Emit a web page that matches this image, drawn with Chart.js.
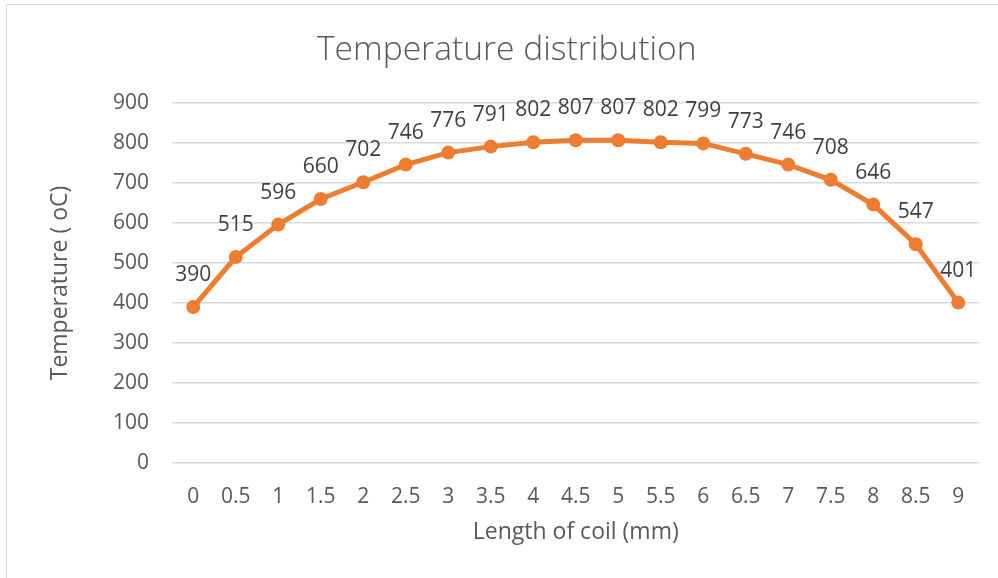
<!DOCTYPE html>
<html>
<head>
<meta charset="utf-8">
<script src="https://cdn.jsdelivr.net/npm/chart.js@4/dist/chart.umd.min.js"></script>
<style>
  html, body { margin: 0; padding: 0; background: #ffffff; }
  #wrap { position: relative; width: 998px; height: 578px; overflow: hidden; }
  #frame { position: absolute; left: 6px; top: 4px; width: 1100px; height: 700px;
           border: 1.5px solid #d9d9d9; box-sizing: border-box; pointer-events: none; }
  canvas { position: absolute; left: 0; top: 0; }
</style>
</head>
<body>
<div id="wrap">
  <canvas id="c" width="998" height="578"></canvas>
  <div id="frame"></div>
</div>
<script>
// Coil position along its length (mm)
const positions = ['0', '0.5', '1', '1.5', '2', '2.5', '3', '3.5', '4', '4.5',
                   '5', '5.5', '6', '6.5', '7', '7.5', '8', '8.5', '9'];
// Temperature at each position (oC)
const temperatures = [390, 515, 596, 660, 702, 746, 776, 791, 802, 807,
                      807, 802, 799, 773, 746, 708, 646, 547, 401];

const chartTitle = 'Temperature distribution';
const xTitle = 'Length of coil (mm)';
const yTitle = 'Temperature ( oC)';

const FONT = '"Open Sans", Lato, sans-serif';
const ORANGE = '#ED7D31';

// Writes each temperature value above its marker
const valueLabels = {
  id: 'valueLabels',
  afterDatasetsDraw(chart) {
    const ctx = chart.ctx;
    const meta = chart.getDatasetMeta(0);
    const data = chart.data.datasets[0].data;
    ctx.save();
    ctx.font = '21px ' + FONT;
    ctx.fillStyle = '#404040';
    ctx.textAlign = 'center';
    ctx.textBaseline = 'middle';
    meta.data.forEach((pt, i) => {
      ctx.fillText(String(data[i]), pt.x, pt.y - 32);
    });
    ctx.restore();
  }
};

new Chart(document.getElementById('c'), {
  type: 'line',
  data: {
    labels: positions,
    datasets: [{
      data: temperatures,
      borderColor: ORANGE,
      backgroundColor: ORANGE,
      borderWidth: 5,
      pointRadius: 7,
      pointHoverRadius: 7,
      pointBorderWidth: 0,
      tension: 0,
      fill: false
    }]
  },
  options: {
    responsive: false,
    animation: false,
    events: [],
    layout: { padding: { left: 34, right: 18.5, top: 0, bottom: 0 } },
    plugins: {
      legend: { display: false },
      tooltip: { enabled: false },
      title: {
        display: true,
        text: chartTitle,
        color: '#595959',
        font: { family: FONT, size: 33.6, weight: '300' },
        padding: { top: 30.3, bottom: 32.4 }
      }
    },
    scales: {
      x: {
        offset: true,
        grid: { display: false, drawTicks: false },
        border: { display: false },
        ticks: {
          color: '#595959',
          font: { family: FONT, size: 21 },
          padding: 21,
          maxRotation: 0,
          autoSkip: false
        },
        title: {
          display: true,
          text: xTitle,
          color: '#595959',
          font: { family: FONT, size: 23 },
          padding: { top: 0, bottom: 32.2 }
        },
        afterFit(scale) { scale.height = 115; }
      },
      y: {
        min: 0,
        max: 900,
        grid: { color: '#d9d9d9', lineWidth: 1.5, drawTicks: false },
        border: { display: false },
        ticks: {
          stepSize: 100,
          color: '#595959',
          font: { family: FONT, size: 21 },
          padding: 23
        },
        title: {
          display: true,
          text: yTitle,
          color: '#595959',
          font: { family: FONT, size: 23 },
          padding: { top: 12.2, bottom: 0 }
        },
        afterFit(scale) { scale.width = 138; }
      }
    }
  },
  plugins: [valueLabels]
});
</script>
</body>
</html>
